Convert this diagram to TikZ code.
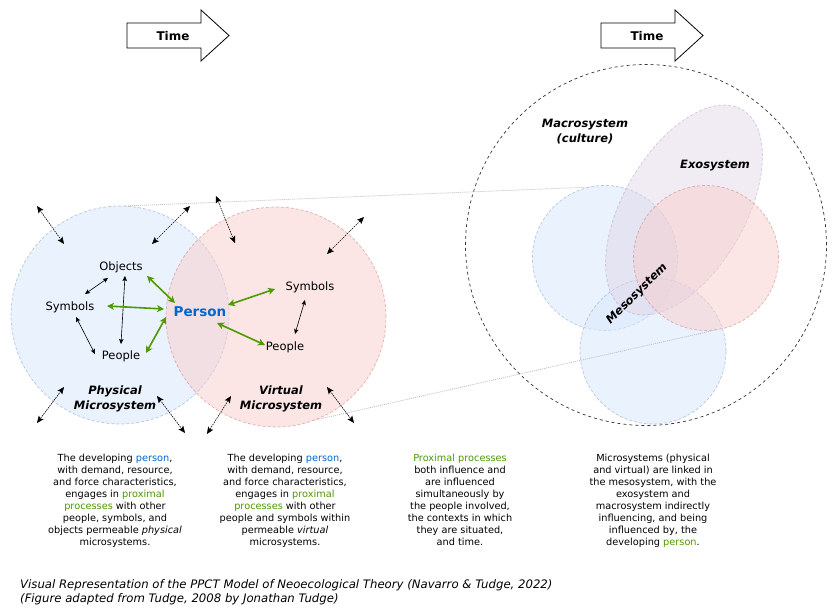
\documentclass[tikz,border=0pt]{standalone}
\usepackage{fontspec}
\setmainfont{DejaVu Sans}
\usetikzlibrary{arrows.meta}
\definecolor{bluefill}{HTML}{DAE8FC}
\definecolor{bluedraw}{HTML}{6C8EBF}
\definecolor{redfill}{HTML}{F8CECC}
\definecolor{reddraw}{HTML}{B85450}
\definecolor{purplefill}{HTML}{E1D5E7}
\definecolor{purpledraw}{HTML}{9673A6}
\definecolor{pgreen}{HTML}{4D9900}
\definecolor{pblue}{HTML}{0066CC}
\begin{document}
\begin{tikzpicture}[x=1pt,y=-1pt,
  bluecirc/.style={circle, inner sep=0pt, outer sep=0pt, fill=bluefill, fill opacity=0.55, draw=bluedraw, draw opacity=0.45, dash pattern=on 3pt off 2pt, line width=0.7pt},
  redcirc/.style={circle, inner sep=0pt, outer sep=0pt, fill=redfill, fill opacity=0.5, draw=reddraw, draw opacity=0.4, dash pattern=on 3pt off 2pt, line width=0.7pt},
  exostyle/.style={fill=purplefill, fill opacity=0.45, draw=purpledraw, draw opacity=0.35, dash pattern=on 3pt off 2pt, line width=0.7pt},
  macro/.style={circle, inner sep=0pt, outer sep=0pt, draw=black!80, dash pattern=on 3pt off 3pt, line width=0.7pt},
  timearrow/.style={draw=black, fill=white, line width=0.8pt, line join=miter},
  timelabel/.style={font=\bfseries\fontsize{12}{13}\selectfont},
  itemlabel/.style={font=\fontsize{11.5}{13}\selectfont, inner sep=1pt},
  syslabel/.style={font=\bfseries\itshape\fontsize{11.5}{15}\selectfont, align=center, inner sep=0pt},
  caption/.style={font=\fontsize{9.75}{12}\selectfont, align=center, inner sep=0pt, anchor=north},
  footer/.style={font=\itshape\fontsize{11.7}{14}\selectfont, inner sep=0pt, anchor=base west},
  linkline/.style={draw=black!25, dash pattern=on 1pt off 1pt, line width=0.8pt},
  outerarrow/.style={draw=black, line width=0.6pt, dash pattern=on 1.5pt off 1pt, {Stealth[length=7pt,width=6pt,inset=1.5pt]}-{Stealth[length=7pt,width=6pt,inset=1.5pt]}},
  innerarrow/.style={draw=black, line width=0.6pt, {Stealth[length=5pt,width=4.5pt,inset=1pt]}-{Stealth[length=5pt,width=4.5pt,inset=1pt]}},
  greenarrow/.style={draw=pgreen, line width=1.6pt, {Stealth[length=7pt,width=7pt,inset=2pt]}-{Stealth[length=7pt,width=7pt,inset=2pt]}}
]
\useasboundingbox[fill=white] (0,0) rectangle (836,616);

% time arrows
\draw[timearrow] (127,23) -- (201,23) -- (201,10) -- (229,35.5) -- (201,61) -- (201,48) -- (127,48) -- cycle;
\node[timelabel] (time1) at (173,36) {Time};
\draw[timearrow] (601,23) -- (675,23) -- (675,10) -- (703,35.5) -- (675,61) -- (675,48) -- (601,48) -- cycle;
\node[timelabel] (time2) at (647,36) {Time};

% micro circles (left)
\node[bluecirc, minimum size=218pt] (phys) at (120,315) {};
\node[redcirc, minimum size=220pt] (virt) at (276,317) {};

% macrosystem
\node[macro, minimum size=361pt] (macro) at (646,245) {};
\node[bluecirc, minimum size=145pt] (mesoA) at (605,258) {};
\node[bluecirc, minimum size=146pt] (mesoB) at (653,351) {};
\path[exostyle, rotate around={60:(684,210)}] (684,210) ellipse [x radius=116, y radius=61];
\node[redcirc, minimum size=145pt] (mesoC) at (706,258) {};

% link lines
\draw[linkline] (phys.88) -- (mesoA.102);
\draw[linkline] (virt.-70) -- (mesoC.-81);

% labels in micro
\node[itemlabel] (objects) at (121,267) {Objects};
\node[itemlabel] (symL) at (70,307) {Symbols};
\node[itemlabel] (peoL) at (121,356) {People};
\node[font=\bfseries\fontsize{13.5}{15}\selectfont, text=pblue, inner sep=1pt] (person) at (200,312) {Person};
\node[itemlabel] (symR) at (310,287) {Symbols};
\node[itemlabel] (peoR) at (285,347) {People};
\node[syslabel] (physlab) at (115,399) {Physical\\Microsystem};
\node[syslabel] (virtlab) at (281,399) {Virtual\\Microsystem};
\node[syslabel] (macrolab) at (585,132) {Macrosystem\\(culture)};
\node[syslabel] (exolab) at (715,166) {Exosystem};
\node[syslabel, rotate=45] (mesolab) at (637,294) {Mesosystem};

% inner black arrows
\coordinate (i1a) at (108,278); \coordinate (i1b) at (85,294);
\coordinate (i2a) at (125,276); \coordinate (i2b) at (121,344);
\coordinate (i3a) at (76,317);  \coordinate (i3b) at (95,354);
\coordinate (i4a) at (305,300); \coordinate (i4b) at (295,334);
\draw[innerarrow] (i1a) -- (i1b);
\draw[innerarrow] (i2a) -- (i2b);
\draw[innerarrow] (i3a) -- (i3b);
\draw[innerarrow] (i4a) -- (i4b);

% green arrows
\coordinate (g1a) at (147,276); \coordinate (g1b) at (175,303);
\coordinate (g2a) at (107,306); \coordinate (g2b) at (164,309);
\coordinate (g3a) at (146,353); \coordinate (g3b) at (166,317);
\coordinate (g4a) at (228,305); \coordinate (g4b) at (275,289);
\coordinate (g5a) at (217,323); \coordinate (g5b) at (265,345);
\draw[greenarrow] (g1a) -- (g1b);
\draw[greenarrow] (g2a) -- (g2b);
\draw[greenarrow] (g3a) -- (g3b);
\draw[greenarrow] (g4a) -- (g4b);
\draw[greenarrow] (g5a) -- (g5b);

% outer arrows
\coordinate (oa1) at (37,206);  \coordinate (oa2) at (64,244);
\coordinate (ob1) at (190,206); \coordinate (ob2) at (152,244);
\coordinate (oc1) at (216,196); \coordinate (oc2) at (235,243);
\coordinate (od1) at (364,217); \coordinate (od2) at (327,254);
\coordinate (oe1) at (64,387);  \coordinate (oe2) at (37,423);
\coordinate (of1) at (157,396); \coordinate (of2) at (185,433);
\coordinate (og1) at (231,396); \coordinate (og2) at (207,434);
\coordinate (oh1) at (327,387); \coordinate (oh2) at (354,423);
\draw[outerarrow] (oa1) -- (oa2);
\draw[outerarrow] (ob1) -- (ob2);
\draw[outerarrow] (oc1) -- (oc2);
\draw[outerarrow] (od1) -- (od2);
\draw[outerarrow] (oe1) -- (oe2);
\draw[outerarrow] (of1) -- (of2);
\draw[outerarrow] (og1) -- (og2);
\draw[outerarrow] (oh1) -- (oh2);

% captions
\node[caption] (cap1) at (115,454) {The developing \textcolor{pblue}{person},\\with demand, resource,\\and force characteristics,\\engages in \textcolor{pgreen}{proximal}\\\textcolor{pgreen}{processes} with other\\people, symbols, and\\objects permeable \textit{physical}\\microsystems.};
\node[caption] (cap2) at (285,454) {The developing \textcolor{pblue}{person},\\with demand, resource,\\and force characteristics,\\engages in \textcolor{pgreen}{proximal}\\\textcolor{pgreen}{processes} with other\\people and symbols within\\permeable \textit{virtual}\\microsystems.};
\node[caption] (cap3) at (460,454) {\textcolor{pgreen}{Proximal processes}\\both influence and\\are influenced\\simultaneously by\\the people involved,\\the contexts in which\\they are situated,\\and time.};
\node[caption] (cap4) at (653,454) {Microsystems (physical\\and virtual) are linked in\\the mesosystem, with the\\exosystem and\\macrosystem indirectly\\influencing, and being\\influenced by, the\\developing \textcolor{pgreen}{person}.};

% footer
\node[footer] (foot1) at (20,588) {Visual Representation of the PPCT Model of Neoecological Theory (Navarro \& Tudge, 2022)};
\node[footer] (foot2) at (20,602) {(Figure adapted from Tudge, 2008 by Jonathan Tudge)};
\end{tikzpicture}
\end{document}
